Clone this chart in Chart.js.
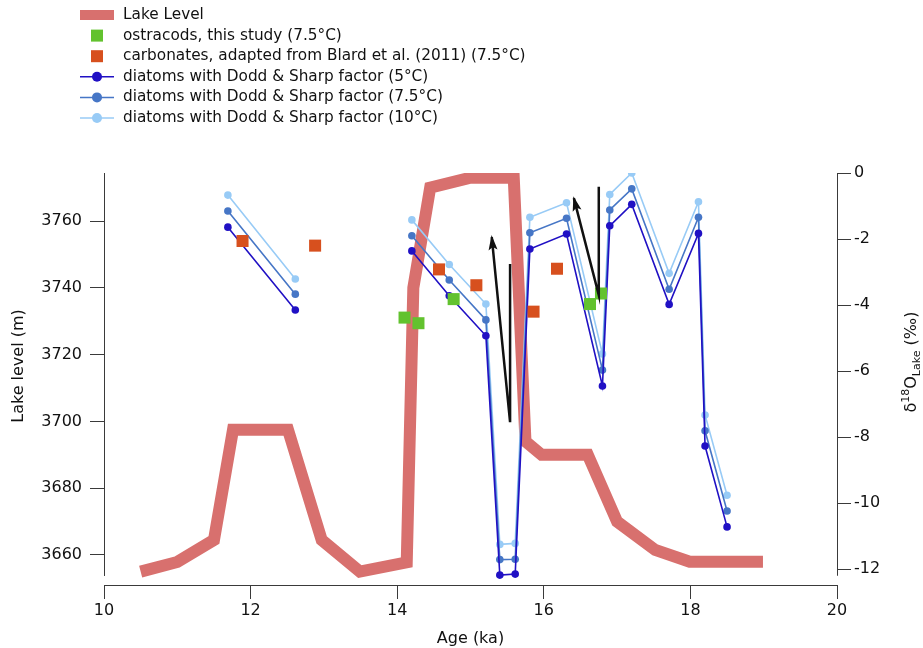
<!DOCTYPE html>
<html>
<head>
<meta charset="utf-8">
<script src="https://cdn.jsdelivr.net/npm/chart.js@4.4.1/dist/chart.umd.min.js"></script>
<style>
  html, body { margin: 0; padding: 0; background: #fff; }
  #wrap { width: 923px; height: 648px; }
</style>
</head>
<body>
<div id="wrap"><canvas id="chart" width="923" height="648"></canvas></div>
<script>
// Lake level (left axis, m)
const lakeAge = [10.5, 11.0, 11.5, 11.76, 12.51, 12.97, 13.49, 14.13, 14.22, 14.45, 15.0, 15.59, 15.75, 15.97, 16.6, 17.0, 17.52, 17.99, 18.99];
const lakeLevel = [3655, 3657.9, 3664.5, 3697.5, 3697.5, 3664.5, 3655, 3657.8, 3740, 3770, 3773, 3773, 3694, 3690, 3690, 3670, 3661.5, 3658, 3658];

// d18O lake (right axis, permil)
const ostracodAge = [14.10, 14.29, 14.77, 16.63, 16.78];
const ostracodD18O = [-4.38, -4.55, -3.82, -3.97, -3.65];

const carbonateAge = [11.89, 12.88, 14.57, 15.08, 15.86, 16.18];
const carbonateD18O = [-2.06, -2.20, -2.92, -3.40, -4.20, -2.90];

// diatoms: null value breaks the line between the two segments
const diatomAge = [11.69, 12.61, 13.4, 14.20, 14.71, 15.21, 15.40, 15.61, 15.81, 16.31, 16.80, 16.90, 17.20, 17.71, 18.11, 18.20, 18.50];
const diatom5 = [-1.64, -4.15, null, -2.36, -3.72, -4.93, -12.18, -12.15, -2.30, -1.85, -6.45, -1.60, -0.95, -3.98, -1.83, -8.27, -10.72];
const diatom75 = [-1.15, -3.67, null, -1.90, -3.24, -4.45, -11.71, -11.70, -1.81, -1.37, -5.97, -1.12, -0.48, -3.52, -1.34, -7.81, -10.24];
const diatom10 = [-0.67, -3.21, null, -1.42, -2.77, -3.97, -11.25, -11.22, -1.34, -0.90, -5.48, -0.65, 0.0, -3.04, -0.87, -7.33, -9.76];

// arrows: vertical stroke, then slanted stroke ending in the head
const arrow1Age = [15.54, 15.54, 15.29];
const arrow1D18O = [-2.76, -7.55, -1.94];
const arrow2Age = [16.75, 16.75, 16.41];
const arrow2D18O = [-0.42, -3.70, -0.76];

const ageTicks = [10, 12, 14, 16, 18, 20];
const levelTicks = [3660, 3680, 3700, 3720, 3740, 3760];
const d18OTicks = [0, -2, -4, -6, -8, -10, -12];

const FONT = '"DejaVu Sans", sans-serif';
const AXIS_COLOR = '#3a3a3a';

const pts = (xs, ys) => xs.map((x, i) => ({ x: x, y: ys[i] }));

// left and right axis lines end a little above the x axis
const axisLines = {
  id: 'axisLines',
  afterDatasetsDraw(chart) {
    const { ctx, chartArea, scales } = chart;
    ctx.save();
    ctx.strokeStyle = AXIS_COLOR;
    ctx.lineWidth = 1;
    ctx.beginPath();
    ctx.moveTo(chartArea.left + 0.5, chartArea.top);
    ctx.lineTo(chartArea.left + 0.5, scales.y.getPixelForValue(3653.7));
    ctx.moveTo(chartArea.right + 0.5, chartArea.top);
    ctx.lineTo(chartArea.right + 0.5, scales.y1.getPixelForValue(-12.2));
    ctx.stroke();
    ctx.restore();
  }
};

// arrow heads at the last point of datasets flagged arrowHead
const arrowHeads = {
  id: 'arrowHeads',
  afterDatasetsDraw(chart) {
    const ctx = chart.ctx;
    chart.data.datasets.forEach((ds, i) => {
      if (!ds.arrowHead) return;
      const pts = chart.getDatasetMeta(i).data;
      const a = pts[pts.length - 2], b = pts[pts.length - 1];
      const ang = Math.atan2(b.y - a.y, b.x - a.x);
      const len = 13, half = 4.5;
      ctx.save();
      ctx.translate(b.x, b.y);
      ctx.rotate(ang);
      ctx.fillStyle = ds.borderColor;
      ctx.beginPath();
      ctx.moveTo(2, 0);
      ctx.lineTo(-len, -half);
      ctx.lineTo(-len + 3, 0);
      ctx.lineTo(-len, half);
      ctx.closePath();
      ctx.fill();
      ctx.restore();
    });
  }
};

// vertical axis titles (right one needs super/subscripts)
const sideTitles = {
  id: 'sideTitles',
  afterDraw(chart) {
    const ctx = chart.ctx;
    ctx.save();
    ctx.fillStyle = '#111';
    ctx.textBaseline = 'middle';
    ctx.textAlign = 'center';
    ctx.font = '16px ' + FONT;
    ctx.translate(19, 366);
    ctx.rotate(-Math.PI / 2);
    ctx.fillText('Lake level (m)', 0, 0);
    ctx.restore();

    const parts = [['\u03b4', 16, 0], ['18', 11, -7], ['O', 16, 0], ['Lake', 11, 4], [' (\u2030)', 16, 0]];
    ctx.save();
    ctx.translate(911, 362);
    ctx.rotate(-Math.PI / 2);
    ctx.fillStyle = '#111';
    ctx.textBaseline = 'alphabetic';
    let w = 0;
    parts.forEach(p => { ctx.font = p[1] + 'px ' + FONT; w += ctx.measureText(p[0]).width; });
    let x = -w / 2;
    parts.forEach(p => {
      ctx.font = p[1] + 'px ' + FONT;
      ctx.fillText(p[0], x, 5 + p[2]);
      x += ctx.measureText(p[0]).width;
    });
    ctx.restore();
  }
};

const cornerLegend = {
  id: 'cornerLegend',
  afterDraw(chart) {
    const ctx = chart.ctx;
    ctx.save();
    ctx.font = '15.3px ' + FONT;
    ctx.textBaseline = 'middle';
    let row = 0;
    chart.data.datasets.forEach(ds => {
      if (!ds.legendType) return;
      const y = 15 + row * 20.6;
      const cx = 97;
      if (ds.legendType === 'band') {
        ctx.fillStyle = ds.borderColor;
        ctx.fillRect(80, y - 5, 34, 10);
      } else if (ds.legendType === 'square') {
        ctx.fillStyle = ds.backgroundColor;
        ctx.fillRect(cx - 6, y - 6, 12, 12);
      } else {
        ctx.strokeStyle = ds.borderColor;
        ctx.lineWidth = 1.5;
        ctx.beginPath();
        ctx.moveTo(80, y);
        ctx.lineTo(114, y);
        ctx.stroke();
        ctx.fillStyle = ds.borderColor;
        ctx.beginPath();
        ctx.arc(cx, y, 5, 0, Math.PI * 2);
        ctx.fill();
      }
      ctx.fillStyle = '#111';
      ctx.fillText(ds.label, 123, y);
      row++;
    });
    ctx.restore();
  }
};

const diatomSet = (label, values, color, order) => ({
  label: label,
  data: pts(diatomAge, values),
  yAxisID: 'y1',
  showLine: true,
  spanGaps: false,
  borderColor: color,
  backgroundColor: color,
  borderWidth: 1.6,
  pointRadius: 3.8,
  pointBorderWidth: 0,
  pointBackgroundColor: color,
  order: order,
  legendType: 'lineDot'
});

const arrowSet = (xs, ys) => ({
  label: 'arrow',
  data: pts(xs, ys),
  yAxisID: 'y1',
  showLine: true,
  borderColor: '#111',
  borderWidth: 2.5,
  pointRadius: 0,
  borderJoinStyle: 'miter',
  order: 0,
  arrowHead: true
});

new Chart(document.getElementById('chart'), {
  type: 'scatter',
  data: {
    datasets: [
      {
        label: 'Lake Level',
        data: pts(lakeAge, lakeLevel),
        yAxisID: 'y',
        showLine: true,
        borderColor: 'rgb(216,112,110)',
        backgroundColor: 'rgb(216,112,110)',
        borderWidth: 12,
        pointRadius: 0,
        borderCapStyle: 'butt',
        borderJoinStyle: 'miter',
        order: 10,
        legendType: 'band'
      },
      {
        label: 'ostracods, this study (7.5\u00b0C)',
        data: pts(ostracodAge, ostracodD18O),
        yAxisID: 'y1',
        backgroundColor: '#62c22e',
        pointStyle: 'rect',
        pointRadius: 8.5,
        pointBorderWidth: 0,
        order: 1,
        legendType: 'square'
      },
      {
        label: 'carbonates, adapted from Blard et al. (2011) (7.5\u00b0C)',
        data: pts(carbonateAge, carbonateD18O),
        yAxisID: 'y1',
        backgroundColor: '#d7501e',
        pointStyle: 'rect',
        pointRadius: 8.5,
        pointBorderWidth: 0,
        order: 1,
        legendType: 'square'
      },
      diatomSet('diatoms with Dodd & Sharp factor (5\u00b0C)', diatom5, '#2010c4', 2),
      diatomSet('diatoms with Dodd & Sharp factor (7.5\u00b0C)', diatom75, '#4676c6', 3),
      diatomSet('diatoms with Dodd & Sharp factor (10\u00b0C)', diatom10, '#98cbf6', 4),
      arrowSet(arrow1Age, arrow1D18O),
      arrowSet(arrow2Age, arrow2D18O)
    ]
  },
  options: {
    responsive: false,
    animation: false,
    events: [],
    devicePixelRatio: 1,
    layout: { padding: { top: 173, left: 0, right: 0, bottom: 0 } },
    plugins: {
      legend: { display: false },
      tooltip: { enabled: false }
    },
    scales: {
      x: {
        type: 'linear',
        position: 'bottom',
        min: 10,
        max: 20,
        afterBuildTicks: s => { s.ticks = ageTicks.map(v => ({ value: v })); },
        afterFit: s => { s.height = 63; },
        grid: { drawOnChartArea: false, drawTicks: true, tickLength: 14, color: AXIS_COLOR },
        border: { display: true, color: AXIS_COLOR },
        ticks: { color: '#111', font: { family: FONT, size: 16 }, padding: 2, maxRotation: 0, callback: v => String(v) },
        title: { display: true, text: 'Age (ka)', color: '#111', font: { family: FONT, size: 16 }, padding: { top: 3, bottom: 0 } }
      },
      y: {
        type: 'linear',
        position: 'left',
        min: 3651.0,
        max: 3774.4,
        afterBuildTicks: s => { s.ticks = levelTicks.map(v => ({ value: v })); },
        afterFit: s => { s.width = 104; },
        grid: { drawOnChartArea: false, drawTicks: true, tickLength: 14, color: AXIS_COLOR },
        border: { display: false },
        ticks: { color: '#111', font: { family: FONT, size: 16 }, padding: 8, callback: v => String(v) },
        title: { display: false }
      },
      y1: {
        type: 'linear',
        position: 'right',
        min: -12.48,
        max: 0,
        afterBuildTicks: s => { s.ticks = d18OTicks.map(v => ({ value: v })); },
        afterFit: s => { s.width = 86; },
        grid: { drawOnChartArea: false, drawTicks: true, tickLength: 14, color: AXIS_COLOR },
        border: { display: false },
        ticks: { color: '#111', font: { family: FONT, size: 16 }, padding: 3, callback: v => String(v) },
        title: { display: false }
      }
    }
  },
  plugins: [axisLines, arrowHeads, sideTitles, cornerLegend]
});
</script>
</body>
</html>
